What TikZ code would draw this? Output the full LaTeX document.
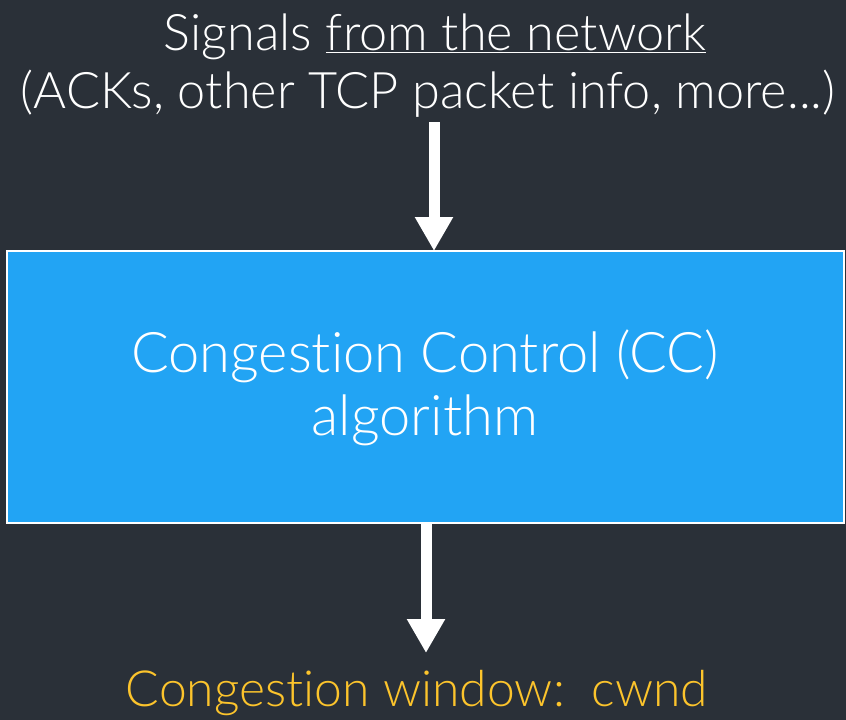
\documentclass[tikz,border=0pt]{standalone}
\usepackage{fontspec}
\setmainfont{Lato Light}[Ligatures=NoCommon]
\usetikzlibrary{arrows.meta}
\definecolor{bgc}{HTML}{2A3038}
\definecolor{boxc}{HTML}{22A4F4}
\definecolor{yel}{HTML}{FCC42C}
\tikzset{
  lbl/.style={text=white, align=center, inner sep=0pt},
  ccbox/.style={draw=white, line width=2pt, fill=boxc, minimum width=837pt, minimum height=272pt, inner sep=0pt},
  bigarrow/.style={draw=white, line width=11pt, -{Triangle[length=34pt,width=36pt]}},
}
\begin{document}
\begin{tikzpicture}[x=1pt,y=-1pt]
\useasboundingbox[fill=bgc] (0,0) rectangle (846,720);
\node[lbl, anchor=base, font=\fontsize{50.4}{58}\selectfont] (sig) at (428,108) {\hspace*{14pt}Signals \underline{from the network}\\(ACKs, other TCP packet info, more...)};
\node[ccbox] (cc) at (425.5,387) {};
\node[lbl, anchor=base, font=\fontsize{56}{63}\selectfont] (cctext) at (425,435) {Congestion Control (CC)\\algorithm};
\node[lbl, anchor=base, text=yel, font=\fontsize{49.8}{58}\selectfont] (cw) at (417,706) {Congestion window:\ \ cwnd};
\coordinate (a1s) at (434,122);
\coordinate (a1e) at (434,251);
\coordinate (a2s) at (426,523);
\coordinate (a2e) at (426,653);
\draw[bigarrow] (a1s) -- (a1e);
\draw[bigarrow] (a2s) -- (a2e);
\end{tikzpicture}
\end{document}
